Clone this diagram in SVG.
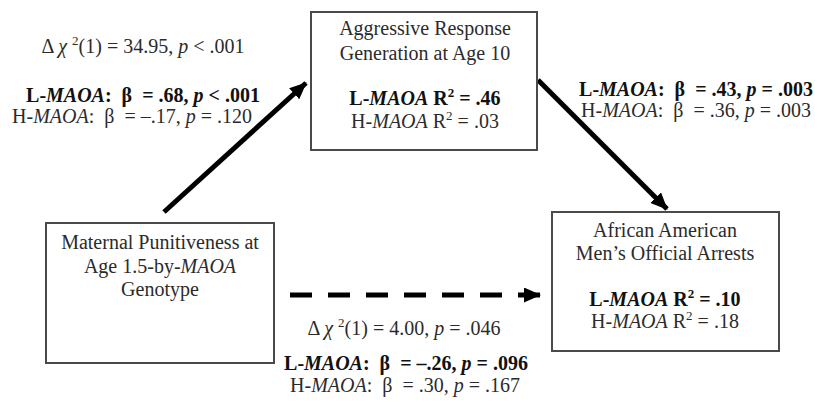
<svg xmlns="http://www.w3.org/2000/svg" width="815" height="414" viewBox="0 0 815 414" xml:space="preserve">
<style>
text{font-family:"Liberation Serif","Times New Roman",serif;font-size:20px;fill:#2b2b2b;text-anchor:middle;white-space:pre}
.b{font-weight:bold;fill:#111}
.i{font-style:italic}
.sup{font-size:13px}
.box{fill:#fff;stroke:#4a4a4a;stroke-width:2}
.arr{stroke:#000;stroke-width:5;fill:none}
</style>
<defs>
<marker id="ah" markerUnits="userSpaceOnUse" markerWidth="17" markerHeight="15" refX="16" refY="7.5" orient="auto">
<path d="M0,0 L17,7.5 L0,15 Z" fill="#000"/>
</marker>
</defs>
<rect width="815" height="414" fill="#fff"/>
<g id="connectors">
<line class="arr" x1="164" y1="212" x2="306" y2="83" marker-end="url(#ah)"/>
<line class="arr" x1="538" y1="80" x2="667" y2="209" marker-end="url(#ah)"/>
<line class="arr" x1="290" y1="295" x2="540" y2="295" stroke-width="6" stroke-dasharray="22 16" marker-end="url(#ah)"/>
</g>
<g id="node-aggressive">
<rect class="box" x="311" y="12" width="226" height="138"/>
<text x="425" y="35">Aggressive Response</text>
<text x="425" y="60">Generation at Age 10</text>
<text x="425" y="105" class="b">L-<tspan class="i">MAOA</tspan> R<tspan class="sup" dy="-8">2</tspan><tspan dy="8"> = .46</tspan></text>
<text x="425" y="128">H-<tspan class="i">MAOA</tspan> R<tspan class="sup" dy="-8">2</tspan><tspan dy="8"> = .03</tspan></text>
</g>
<g id="node-maternal">
<rect class="box" x="46" y="223" width="228" height="140"/>
<text x="160" y="249">Maternal Punitiveness at</text>
<text x="160" y="273">Age 1.5-by-<tspan class="i">MAOA</tspan></text>
<text x="160" y="296">Genotype</text>
</g>
<g id="node-arrests">
<rect class="box" x="552" y="212" width="227" height="139"/>
<text x="665" y="237">African American</text>
<text x="665" y="260">Men’s Official Arrests</text>
<text x="665" y="306" class="b">L-<tspan class="i">MAOA</tspan> R<tspan class="sup" dy="-8">2</tspan><tspan dy="8"> = .10</tspan></text>
<text x="665" y="328">H-<tspan class="i">MAOA</tspan> R<tspan class="sup" dy="-8">2</tspan><tspan dy="8"> = .18</tspan></text>
</g>
<g id="labels">
<text x="143" y="53">Δ <tspan class="i">χ</tspan> <tspan class="sup" dy="-8">2</tspan><tspan dy="8">(1) = 34.95, </tspan><tspan class="i">p</tspan> &lt; .001</text>
<text x="143" y="102" class="b">L-<tspan class="i">MAOA</tspan>:  β  = .68, <tspan class="i">p</tspan> &lt; .001</text>
<text x="132" y="123">H-<tspan class="i">MAOA</tspan>:  β  = –.17, <tspan class="i">p</tspan> = .120</text>
<text x="696" y="96" class="b">L-<tspan class="i">MAOA</tspan>:  β  = .43, <tspan class="i">p</tspan> = .003</text>
<text x="696" y="117">H-<tspan class="i">MAOA</tspan>:  β  = .36, <tspan class="i">p</tspan> = .003</text>
<text x="404" y="335">Δ <tspan class="i">χ</tspan> <tspan class="sup" dy="-8">2</tspan><tspan dy="8">(1) = 4.00, </tspan><tspan class="i">p</tspan> = .046</text>
<text x="406" y="370" class="b">L-<tspan class="i">MAOA</tspan>:  β  = –.26, <tspan class="i">p</tspan> = .096</text>
<text x="405" y="392">H-<tspan class="i">MAOA</tspan>:  β  = .30, <tspan class="i">p</tspan> = .167</text>
</g>
</svg>
